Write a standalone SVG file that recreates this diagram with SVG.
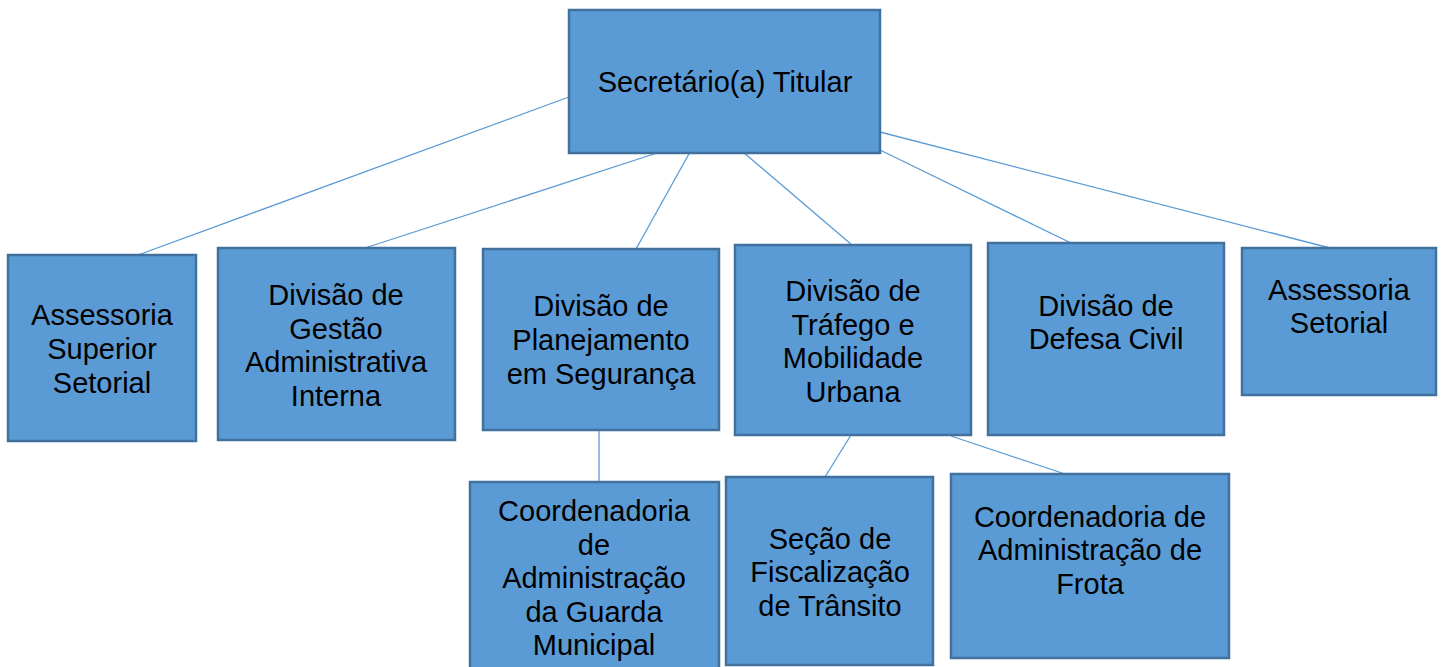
<svg xmlns="http://www.w3.org/2000/svg" width="1444" height="667" viewBox="0 0 1444 667">
<style>
.box{fill:#5B9BD5;stroke:#41719C;stroke-width:2.5}
.lbl{font-family:"Liberation Sans",Arial,sans-serif;font-size:29px;fill:#000;text-anchor:middle}
.conn line{stroke:#5B9BD5;stroke-width:1.3}
</style>
<rect width="1444" height="667" fill="#fff"/>
<g id="connectors" class="conn">
<line x1="569" y1="97" x2="138" y2="255"/>
<line x1="660" y1="152" x2="365" y2="248"/>
<line x1="690" y1="152" x2="636" y2="249"/>
<line x1="743" y1="152" x2="852" y2="245"/>
<line x1="880" y1="150" x2="1071" y2="243"/>
<line x1="880" y1="132" x2="1330" y2="248"/>
<line x1="599" y1="420" x2="599" y2="482"/>
<line x1="851" y1="435" x2="825" y2="477"/>
<line x1="951" y1="436" x2="1065" y2="474"/>
</g>
<g id="n-secretario"><rect class="box" x="569" y="10" width="311" height="143"/><text class="lbl" x="725" y="92">Secretário(a) Titular</text></g>
<g id="n-assessoria-superior"><rect class="box" x="8" y="255" width="188" height="186"/><text class="lbl" x="102" y="325">Assessoria</text><text class="lbl" x="102" y="359">Superior</text><text class="lbl" x="102" y="393">Setorial</text></g>
<g id="n-gestao"><rect class="box" x="218" y="248" width="237" height="192"/><text class="lbl" x="336" y="305">Divisão de</text><text class="lbl" x="336" y="339">Gestão</text><text class="lbl" x="336" y="372">Administrativa</text><text class="lbl" x="336" y="406">Interna</text></g>
<g id="n-planejamento"><rect class="box" x="483" y="249" width="236" height="181"/><text class="lbl" x="601" y="316">Divisão de</text><text class="lbl" x="601" y="350">Planejamento</text><text class="lbl" x="601" y="384">em Segurança</text></g>
<g id="n-trafego"><rect class="box" x="735" y="245" width="236" height="190"/><text class="lbl" x="853" y="301">Divisão de</text><text class="lbl" x="853" y="335">Tráfego e</text><text class="lbl" x="853" y="368">Mobilidade</text><text class="lbl" x="853" y="402">Urbana</text></g>
<g id="n-defesa"><rect class="box" x="988" y="243" width="236" height="192"/><text class="lbl" x="1106" y="316">Divisão de</text><text class="lbl" x="1106" y="349">Defesa Civil</text></g>
<g id="n-assessoria-setorial"><rect class="box" x="1242" y="248" width="194" height="147"/><text class="lbl" x="1339" y="300">Assessoria</text><text class="lbl" x="1339" y="333">Setorial</text></g>
<g id="n-guarda"><rect class="box" x="470" y="482" width="249" height="190"/><text class="lbl" x="594" y="521">Coordenadoria</text><text class="lbl" x="594" y="555">de</text><text class="lbl" x="594" y="588">Administração</text><text class="lbl" x="594" y="622">da Guarda</text><text class="lbl" x="594" y="655">Municipal</text></g>
<g id="n-fiscalizacao"><rect class="box" x="726" y="477" width="207" height="188"/><text class="lbl" x="830" y="549">Seção de</text><text class="lbl" x="830" y="582">Fiscalização</text><text class="lbl" x="830" y="616">de Trânsito</text></g>
<g id="n-frota"><rect class="box" x="951" y="474" width="278" height="184"/><text class="lbl" x="1090" y="527">Coordenadoria de</text><text class="lbl" x="1090" y="560">Administração de</text><text class="lbl" x="1090" y="594">Frota</text></g>
</svg>
